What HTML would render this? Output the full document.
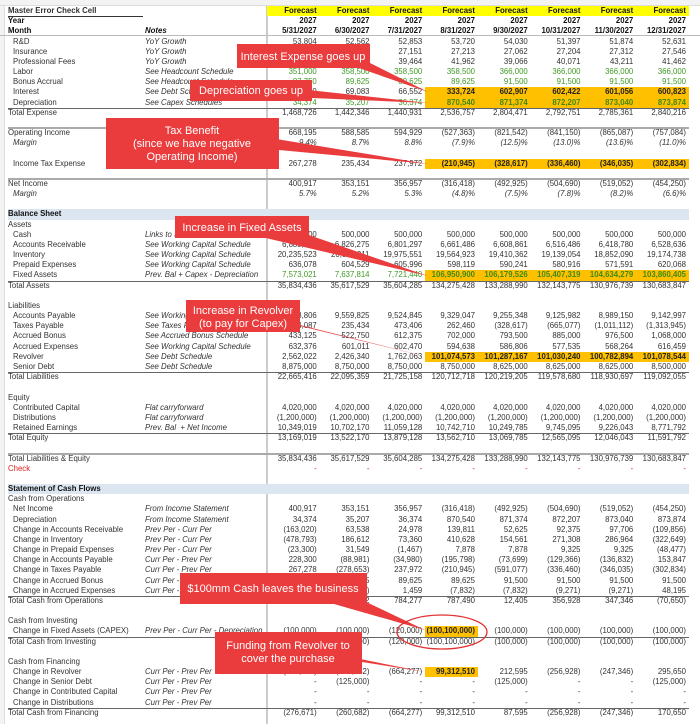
<!DOCTYPE html>
<html><head><meta charset="utf-8">
<style>
*{margin:0;padding:0;box-sizing:border-box}
body{width:700px;height:724px;overflow:hidden;background:#fff;font-family:"Liberation Sans",sans-serif;font-size:7.8px;color:#333;position:relative}
.r{position:absolute;left:0;width:700px;height:10.2px;line-height:10.2px;white-space:nowrap}
.l{position:absolute;left:8px}
.l.i{left:13px}
.n{position:absolute;left:145px;font-style:italic}
.vals{position:absolute;left:267px;width:422px;display:flex}
.vals span{width:52.75px;text-align:right;padding-right:3px;display:block;height:10.2px}
.b{font-weight:bold;color:#111}
.g{color:#3e9a25}
.h{background:#ffc000;font-weight:bold;color:#222}
.gh{background:#ffc000;font-weight:bold;color:#3e8a10}
.y span{background:#ffff00;font-weight:bold;color:#111}
.it span{font-style:italic}
.t::before{content:"";position:absolute;left:8px;width:681px;top:0;border-top:1px solid #666}
.tt::before{content:"";position:absolute;left:8px;width:681px;top:-1px;border-top:2px solid #aaa}
.band{background:linear-gradient(#dce6f1,#dce6f1) 8px 0/681px 100% no-repeat}
.red{color:#e02020}
</style></head><body>
<div style="position:absolute;left:0;top:0;width:700px;height:6px;background:#f3f3f3;border-bottom:1px solid #ddd"></div>
<div style="position:absolute;left:266px;top:6px;width:1.5px;height:718px;background:#ccc"></div>
<div style="position:absolute;left:0;top:6px;width:5px;height:718px;background:#f3f3f3;border-right:1px solid #ddd"></div>

<div class="r y" style="top:6px"><b class="l" style="border-bottom:1px solid #333;width:135px">Master Error Check Cell</b><div class="vals"><span>Forecast</span><span>Forecast</span><span>Forecast</span><span>Forecast</span><span>Forecast</span><span>Forecast</span><span>Forecast</span><span>Forecast</span></div></div>
<div class="r b" style="top:16.2px"><span class="l">Year</span><div class="vals"><span>2027</span><span>2027</span><span>2027</span><span>2027</span><span>2027</span><span>2027</span><span>2027</span><span>2027</span></div></div>
<div class="r b" style="top:26.3px;border-bottom:1px solid #bbb"><span class="l">Month</span><i class="n">Notes</i><div class="vals"><span>5/31/2027</span><span>6/30/2027</span><span>7/31/2027</span><span>8/31/2027</span><span>9/30/2027</span><span>10/31/2027</span><span>11/30/2027</span><span>12/31/2027</span></div></div>
<div class="r" style="top:36.5px"><span class="l i">R&amp;D</span><i class="n">YoY Growth</i><div class="vals"><span>53,804</span><span>52,562</span><span>52,853</span><span>53,720</span><span>54,030</span><span>51,397</span><span>51,874</span><span>52,631</span></div></div>
<div class="r" style="top:46.7px"><span class="l i">Insurance</span><i class="n">YoY Growth</i><div class="vals"><span>27,030</span><span>27,102</span><span>27,151</span><span>27,213</span><span>27,062</span><span>27,204</span><span>27,312</span><span>27,546</span></div></div>
<div class="r" style="top:56.9px"><span class="l i">Professional Fees</span><i class="n">YoY Growth</i><div class="vals"><span>38,120</span><span>39,210</span><span>39,464</span><span>41,962</span><span>39,066</span><span>40,071</span><span>43,211</span><span>41,462</span></div></div>
<div class="r" style="top:67px"><span class="l i">Labor</span><i class="n">See Headcount Schedule</i><div class="vals g"><span>351,000</span><span>358,500</span><span>358,500</span><span>358,500</span><span>366,000</span><span>366,000</span><span>366,000</span><span>366,000</span></div></div>
<div class="r" style="top:77.2px"><span class="l i">Bonus Accrual</span><i class="n">See Headcount Schedule</i><div class="vals g"><span>87,750</span><span>89,625</span><span>89,625</span><span>89,625</span><span>91,500</span><span>91,500</span><span>91,500</span><span>91,500</span></div></div>
<div class="r" style="top:87.4px"><span class="l i">Interest</span><i class="n">See Debt Schedule</i><div class="vals"><span>69,810</span><span>69,083</span><span>66,552</span><span class="h">333,724</span><span class="h">602,907</span><span class="h">602,422</span><span class="h">601,056</span><span class="h">600,823</span></div></div>
<div class="r" style="top:97.5px"><span class="l i">Depreciation</span><i class="n">See Capex Schedules</i><div class="vals g"><span>34,374</span><span>35,207</span><span>36,374</span><span class="gh">870,540</span><span class="gh">871,374</span><span class="gh">872,207</span><span class="gh">873,040</span><span class="gh">873,874</span></div></div>
<div class="r t" style="top:107.7px"><span class="l">Total Expense</span><div class="vals"><span>1,468,726</span><span>1,442,346</span><span>1,440,931</span><span>2,536,757</span><span>2,804,471</span><span>2,792,751</span><span>2,785,361</span><span>2,840,216</span></div></div>
<div class="r tt" style="top:128px"><span class="l">Operating Income</span><div class="vals"><span>668,195</span><span>588,585</span><span>594,929</span><span>(527,363)</span><span>(821,542)</span><span>(841,150)</span><span>(865,087)</span><span>(757,084)</span></div></div>
<div class="r it" style="top:138.2px"><i class="l i">Margin</i><div class="vals"><span>9.4%</span><span>8.7%</span><span>8.8%</span><span>(7.9)%</span><span>(12.5)%</span><span>(13.0)%</span><span>(13.6)%</span><span>(11.0)%</span></div></div>
<div class="r" style="top:158.6px"><span class="l i">Income Tax Expense</span><div class="vals"><span>267,278</span><span>235,434</span><span>237,972</span><span class="h">(210,945)</span><span class="h">(328,617)</span><span class="h">(336,460)</span><span class="h">(346,035)</span><span class="h">(302,834)</span></div></div>
<div class="r tt" style="top:178.9px"><span class="l">Net Income</span><div class="vals"><span>400,917</span><span>353,151</span><span>356,957</span><span>(316,418)</span><span>(492,925)</span><span>(504,690)</span><span>(519,052)</span><span>(454,250)</span></div></div>
<div class="r it" style="top:189.1px"><i class="l i">Margin</i><div class="vals"><span>5.7%</span><span>5.2%</span><span>5.3%</span><span>(4.8)%</span><span>(7.5)%</span><span>(7.8)%</span><span>(8.2)%</span><span>(6.6)%</span></div></div>
<div class="r band" style="top:209.4px"><b class="l b">Balance Sheet</b></div>
<div class="r" style="top:219.6px"><span class="l">Assets</span></div>
<div class="r" style="top:229.7px"><span class="l i">Cash</span><i class="n">Links to Statement of Cash Flows</i><div class="vals"><span>500,000</span><span>500,000</span><span>500,000</span><span>500,000</span><span>500,000</span><span>500,000</span><span>500,000</span><span>500,000</span></div></div>
<div class="r" style="top:239.9px"><span class="l i">Accounts Receivable</span><i class="n">See Working Capital Schedule</i><div class="vals"><span>6,889,813</span><span>6,826,275</span><span>6,801,297</span><span>6,661,486</span><span>6,608,861</span><span>6,516,486</span><span>6,418,780</span><span>6,528,636</span></div></div>
<div class="r" style="top:250.1px"><span class="l i">Inventory</span><i class="n">See Working Capital Schedule</i><div class="vals"><span>20,235,523</span><span>20,048,911</span><span>19,975,551</span><span>19,564,923</span><span>19,410,362</span><span>19,139,054</span><span>18,852,090</span><span>19,174,738</span></div></div>
<div class="r" style="top:260.3px"><span class="l i">Prepaid Expenses</span><i class="n">See Working Capital Schedule</i><div class="vals"><span>636,078</span><span>604,529</span><span>605,996</span><span>598,119</span><span>590,241</span><span>580,916</span><span>571,591</span><span>620,068</span></div></div>
<div class="r" style="top:270.4px"><span class="l i">Fixed Assets</span><i class="n">Prev. Bal + Capex - Depreciation</i><div class="vals g"><span>7,573,021</span><span>7,637,814</span><span>7,721,440</span><span class="gh">106,950,900</span><span class="gh">106,179,526</span><span class="gh">105,407,319</span><span class="gh">104,634,279</span><span class="gh">103,860,405</span></div></div>
<div class="r t" style="top:280.6px"><span class="l">Total Assets</span><div class="vals"><span>35,834,436</span><span>35,617,529</span><span>35,604,285</span><span>134,275,428</span><span>133,288,990</span><span>132,143,775</span><span>130,976,739</span><span>130,683,847</span></div></div>
<div class="r" style="top:300.9px"><span class="l">Liabilities</span></div>
<div class="r" style="top:311.1px"><span class="l i">Accounts Payable</span><i class="n">See Working Capital Schedule</i><div class="vals"><span>9,648,806</span><span>9,559,825</span><span>9,524,845</span><span>9,329,047</span><span>9,255,348</span><span>9,125,982</span><span>8,989,150</span><span>9,142,997</span></div></div>
<div class="r" style="top:321.3px"><span class="l i">Taxes Payable</span><i class="n">See Taxes Payable Schedule</i><div class="vals"><span>514,087</span><span>235,434</span><span>473,406</span><span>262,460</span><span>(328,617)</span><span>(665,077)</span><span>(1,011,112)</span><span>(1,313,945)</span></div></div>
<div class="r" style="top:331.4px"><span class="l i">Accrued Bonus</span><i class="n">See Accrued Bonus Schedule</i><div class="vals"><span>433,125</span><span>522,750</span><span>612,375</span><span>702,000</span><span>793,500</span><span>885,000</span><span>976,500</span><span>1,068,000</span></div></div>
<div class="r" style="top:341.6px"><span class="l i">Accrued Expenses</span><i class="n">See Working Capital Schedule</i><div class="vals"><span>632,376</span><span>601,011</span><span>602,470</span><span>594,638</span><span>586,806</span><span>577,535</span><span>568,264</span><span>616,459</span></div></div>
<div class="r" style="top:351.8px"><span class="l i">Revolver</span><i class="n">See Debt Schedule</i><div class="vals"><span>2,562,022</span><span>2,426,340</span><span>1,762,063</span><span class="h">101,074,573</span><span class="h">101,287,167</span><span class="h">101,030,240</span><span class="h">100,782,894</span><span class="h">101,078,544</span></div></div>
<div class="r" style="top:361.9px"><span class="l i">Senior Debt</span><i class="n">See Debt Schedule</i><div class="vals"><span>8,875,000</span><span>8,750,000</span><span>8,750,000</span><span>8,750,000</span><span>8,625,000</span><span>8,625,000</span><span>8,625,000</span><span>8,500,000</span></div></div>
<div class="r t" style="top:372.1px"><span class="l">Total Liabilities</span><div class="vals"><span>22,665,416</span><span>22,095,359</span><span>21,725,158</span><span>120,712,718</span><span>120,219,205</span><span>119,578,680</span><span>118,930,697</span><span>119,092,055</span></div></div>
<div class="r" style="top:392.5px"><span class="l">Equity</span></div>
<div class="r" style="top:402.6px"><span class="l i">Contributed Capital</span><i class="n">Flat carryforward</i><div class="vals"><span>4,020,000</span><span>4,020,000</span><span>4,020,000</span><span>4,020,000</span><span>4,020,000</span><span>4,020,000</span><span>4,020,000</span><span>4,020,000</span></div></div>
<div class="r" style="top:412.8px"><span class="l i">Distributions</span><i class="n">Flat carryforward</i><div class="vals"><span>(1,200,000)</span><span>(1,200,000)</span><span>(1,200,000)</span><span>(1,200,000)</span><span>(1,200,000)</span><span>(1,200,000)</span><span>(1,200,000)</span><span>(1,200,000)</span></div></div>
<div class="r" style="top:423px"><span class="l i">Retained Earnings</span><i class="n">Prev. Bal&nbsp; + Net Income</i><div class="vals"><span>10,349,019</span><span>10,702,170</span><span>11,059,128</span><span>10,742,710</span><span>10,249,785</span><span>9,745,095</span><span>9,226,043</span><span>8,771,792</span></div></div>
<div class="r t" style="top:433.1px"><span class="l">Total Equity</span><div class="vals"><span>13,169,019</span><span>13,522,170</span><span>13,879,128</span><span>13,562,710</span><span>13,069,785</span><span>12,565,095</span><span>12,046,043</span><span>11,591,792</span></div></div>
<div class="r tt" style="top:453.5px"><span class="l">Total Liabilities &amp; Equity</span><div class="vals"><span>35,834,436</span><span>35,617,529</span><span>35,604,285</span><span>134,275,428</span><span>133,288,990</span><span>132,143,775</span><span>130,976,739</span><span>130,683,847</span></div></div>
<div class="r" style="top:463.6px"><span class="l red">Check</span><div class="vals red"><span>-</span><span>-</span><span>-</span><span>-</span><span>-</span><span>-</span><span>-</span><span>-</span></div></div>
<div class="r band" style="top:484px"><b class="l b">Statement of Cash Flows</b></div>
<div class="r" style="top:494.2px"><span class="l">Cash from Operations</span></div>
<div class="r" style="top:504.3px"><span class="l i">Net Income</span><i class="n">From Income Statement</i><div class="vals"><span>400,917</span><span>353,151</span><span>356,957</span><span>(316,418)</span><span>(492,925)</span><span>(504,690)</span><span>(519,052)</span><span>(454,250)</span></div></div>
<div class="r" style="top:514.5px"><span class="l i">Depreciation</span><i class="n">From Income Statement</i><div class="vals"><span>34,374</span><span>35,207</span><span>36,374</span><span>870,540</span><span>871,374</span><span>872,207</span><span>873,040</span><span>873,874</span></div></div>
<div class="r" style="top:524.7px"><span class="l i">Change in Accounts Receivable</span><i class="n">Prev Per - Curr Per</i><div class="vals"><span>(163,020)</span><span>63,538</span><span>24,978</span><span>139,811</span><span>52,625</span><span>92,375</span><span>97,706</span><span>(109,856)</span></div></div>
<div class="r" style="top:534.8px"><span class="l i">Change in Inventory</span><i class="n">Prev Per - Curr Per</i><div class="vals"><span>(478,793)</span><span>186,612</span><span>73,360</span><span>410,628</span><span>154,561</span><span>271,308</span><span>286,964</span><span>(322,649)</span></div></div>
<div class="r" style="top:545px"><span class="l i">Change in Prepaid Expenses</span><i class="n">Prev Per - Curr Per</i><div class="vals"><span>(23,300)</span><span>31,549</span><span>(1,467)</span><span>7,878</span><span>7,878</span><span>9,325</span><span>9,325</span><span>(48,477)</span></div></div>
<div class="r" style="top:555.2px"><span class="l i">Change in Accounts Payable</span><i class="n">Curr Per - Prev Per</i><div class="vals"><span>228,300</span><span>(88,981)</span><span>(34,980)</span><span>(195,798)</span><span>(73,699)</span><span>(129,366)</span><span>(136,832)</span><span>153,847</span></div></div>
<div class="r" style="top:565.3px"><span class="l i">Change in Taxes Payable</span><i class="n">Curr Per - Prev Per</i><div class="vals"><span>267,278</span><span>(278,653)</span><span>237,972</span><span>(210,945)</span><span>(591,077)</span><span>(336,460)</span><span>(346,035)</span><span>(302,834)</span></div></div>
<div class="r" style="top:575.5px"><span class="l i">Change in Accrued Bonus</span><i class="n">Curr Per - Prev Per</i><div class="vals"><span>87,750</span><span>89,625</span><span>89,625</span><span>89,625</span><span>91,500</span><span>91,500</span><span>91,500</span><span>91,500</span></div></div>
<div class="r" style="top:585.7px"><span class="l i">Change in Accrued Expenses</span><i class="n">Curr Per - Prev Per</i><div class="vals"><span>(31,365)</span><span>(31,365)</span><span>1,459</span><span>(7,832)</span><span>(7,832)</span><span>(9,271)</span><span>(9,271)</span><span>48,195</span></div></div>
<div class="r t" style="top:595.8px"><span class="l">Total Cash from Operations</span><div class="vals"><span>323,241</span><span>360,682</span><span>784,277</span><span>787,490</span><span>12,405</span><span>356,928</span><span>347,346</span><span>(70,650)</span></div></div>
<div class="r" style="top:616.2px"><span class="l">Cash from Investing</span></div>
<div class="r" style="top:626.4px"><span class="l i">Change in Fixed Assets (CAPEX)</span><i class="n">Prev Per - Curr Per - Depreciation</i><div class="vals"><span>(100,000)</span><span>(100,000)</span><span>(120,000)</span><span class="h">(100,100,000)</span><span>(100,000)</span><span>(100,000)</span><span>(100,000)</span><span>(100,000)</span></div></div>
<div class="r t" style="top:636.5px"><span class="l">Total Cash from Investing</span><div class="vals"><span>(100,000)</span><span>(100,000)</span><span>(120,000)</span><span>(100,100,000)</span><span>(100,000)</span><span>(100,000)</span><span>(100,000)</span><span>(100,000)</span></div></div>
<div class="r" style="top:656.9px"><span class="l">Cash from Financing</span></div>
<div class="r" style="top:667px"><span class="l i">Change in Revolver</span><i class="n">Curr Per - Prev Per</i><div class="vals"><span>(276,671)</span><span>(135,682)</span><span>(664,277)</span><span class="h">99,312,510</span><span>212,595</span><span>(256,928)</span><span>(247,346)</span><span>295,650</span></div></div>
<div class="r" style="top:677.2px"><span class="l i">Change in Senior Debt</span><i class="n">Curr Per - Prev Per</i><div class="vals"><span>-</span><span>(125,000)</span><span>-</span><span>-</span><span>(125,000)</span><span>-</span><span>-</span><span>(125,000)</span></div></div>
<div class="r" style="top:687.4px"><span class="l i">Change in Contributed Capital</span><i class="n">Curr Per - Prev Per</i><div class="vals"><span>-</span><span>-</span><span>-</span><span>-</span><span>-</span><span>-</span><span>-</span><span>-</span></div></div>
<div class="r" style="top:697.5px"><span class="l i">Change in Distributions</span><i class="n">Curr Per - Prev Per</i><div class="vals"><span>-</span><span>-</span><span>-</span><span>-</span><span>-</span><span>-</span><span>-</span><span>-</span></div></div>
<div class="r t" style="top:707.7px"><span class="l">Total Cash from Financing</span><div class="vals"><span>(276,671)</span><span>(260,682)</span><span>(664,277)</span><span>99,312,510</span><span>87,595</span><span>(256,928)</span><span>(247,346)</span><span>170,650</span></div></div>

<svg width="700" height="724" style="position:absolute;left:0;top:0" font-family="Liberation Sans, sans-serif">
 <g fill="#ea3b3d">
  <polygon points="330,58 368,62 428,92"/>
  <rect x="237" y="44" width="133" height="24"/>
  <polygon points="290,88 312,98 428,103"/>
  <rect x="190" y="80" width="122" height="21"/>
  <polygon points="270,138 279,150 428,164"/>
  <rect x="106" y="118" width="173" height="51"/>
  <polygon points="240,232 300,232 428,276"/>
  <rect x="175" y="216" width="134" height="22"/>
  <polygon points="280,320 300,326 428,357"/>
  <rect x="186" y="300" width="114" height="32"/>
  <polygon points="320,600 362,600 425,630"/>
  <rect x="180" y="573" width="187" height="31"/>
  <polygon points="340,655 362,662 425,672"/>
  <rect x="215" y="632" width="147" height="42"/>
 </g>
 <g fill="#fff" font-size="11" text-anchor="middle">
  <text x="303" y="60">Interest Expense goes up</text>
  <text x="251" y="94">Depreciation goes up</text>
  <text x="192" y="134">Tax Benefit</text>
  <text x="192" y="147">(since we have negative</text>
  <text x="192" y="160">Operating Income)</text>
  <text x="242" y="231">Increase in Fixed Assets</text>
  <text x="243" y="314">Increase in Revolver</text>
  <text x="243" y="327">(to pay for Capex)</text>
  <text x="273" y="592">$100mm Cash leaves the business</text>
  <text x="288" y="649">Funding from Revolver to</text>
  <text x="288" y="662">cover the purchase</text>
 </g>
 <ellipse cx="442" cy="632" rx="45" ry="17" fill="none" stroke="#e03030" stroke-width="1.3"/>
</svg>
</body></html>
